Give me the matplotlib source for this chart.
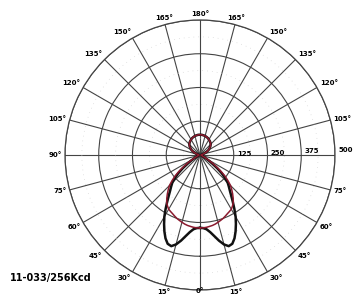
import numpy as np
import matplotlib.pyplot as plt

# gamma angles (deg) and intensities
gamma = [0, 2.5, 5, 7.5, 10, 12.5, 15, 17.5, 20, 22.5, 25, 27.5, 30, 32.5, 35, 37.5, 40,
         42.5, 45, 47.5, 50, 52.5, 55, 57.5, 60] + list(range(65, 181, 5))
c0_c180 = [270, 271, 276, 288, 305, 325, 343, 354, 350, 334, 312, 288, 264, 237, 212, 190, 172,
           158, 145, 125, 105, 80, 55, 38, 25,
           12, 6, 4, 3, 3, 3, 3, 5, 10, 18, 27, 36, 43, 50, 56, 60, 63, 66, 69, 71, 73, 74, 75, 75]
c90_c270 = [270, 270, 269, 267, 265, 262, 258, 254, 250, 245, 240, 236, 232, 224, 215, 202, 188,
            174, 160, 140, 120, 95, 70, 50, 32,
            15, 8, 4, 4, 4, 4, 4, 6, 10, 18, 27, 36, 43, 50, 56, 60, 63, 66, 69, 71, 73, 74, 75, 75]
ring_values = [125, 250, 375, 500]
angle_labels = list(range(0, 181, 15))
unit_label = "11-033/256Kcd"


def full_curve(vals):
    # mirror the half plane onto the right side
    g = np.array(gamma, dtype=float)
    v = np.array(vals, dtype=float)
    th = np.concatenate([g, 360 - g[::-1]])
    r = np.concatenate([v, v[::-1]])
    return np.radians(th), r


fig = plt.figure(figsize=(3.53, 2.96), dpi=100)
ax = fig.add_axes([0.1841, 0.0203, 0.7649, 0.9122], projection='polar')
ax.set_theta_zero_location('S')
ax.set_theta_direction(-1)
ax.set_rlim(0, 500)
ax.set_thetagrids(range(0, 360, 15), labels=[])
ax.set_rgrids(ring_values, labels=[])
ax.grid(True, color='#444444', lw=0.8)
ax.spines['polar'].set_color('#444444')
ax.spines['polar'].set_linewidth(0.9)

# faint dotted helper rings
t = np.linspace(0, 2 * np.pi, 400)
for rr in [62.5, 187.5, 312.5, 437.5]:
    ax.plot(t, np.full_like(t, rr), color='#cccccc', lw=0.5, ls=(0, (1, 6)))

th, r = full_curve(c0_c180)
ax.plot(th, r, color='#111111', lw=1.8)
th, r = full_curve(c90_c270)
ax.plot(th, r, color='#8b1a2e', lw=1.1)

# angle labels round the outer circle (right 90 is taken by the scale label)
for g in angle_labels:
    sides = [g] if g in (0, 90, 180) else [g, 360 - g]
    for a in sides:
        rad = np.radians(a)
        x = -np.sin(rad)
        y = -np.cos(rad)
        ha = 'center' if abs(x) < 0.3 else ('right' if x < 0 else 'left')
        va = 'center' if abs(y) < 0.3 else ('bottom' if y > 0 else 'top')
        rr = 512
        if a == 0:
            va, rr = 'center', 505
        ax.text(rad, rr, f"{g}°", fontsize=5, fontweight='bold', ha=ha, va=va,
                clip_on=False)

# ring value labels along the right horizontal
for v in ring_values:
    ax.text(np.radians(268), v + 12, str(v), fontsize=5, fontweight='bold',
            ha='left', va='center', clip_on=False)

fig.text(10 / 353, 1 - 278 / 296, unit_label, fontsize=7, fontweight='bold',
         ha='left', va='center')

fig.savefig('out.png', dpi=100)
